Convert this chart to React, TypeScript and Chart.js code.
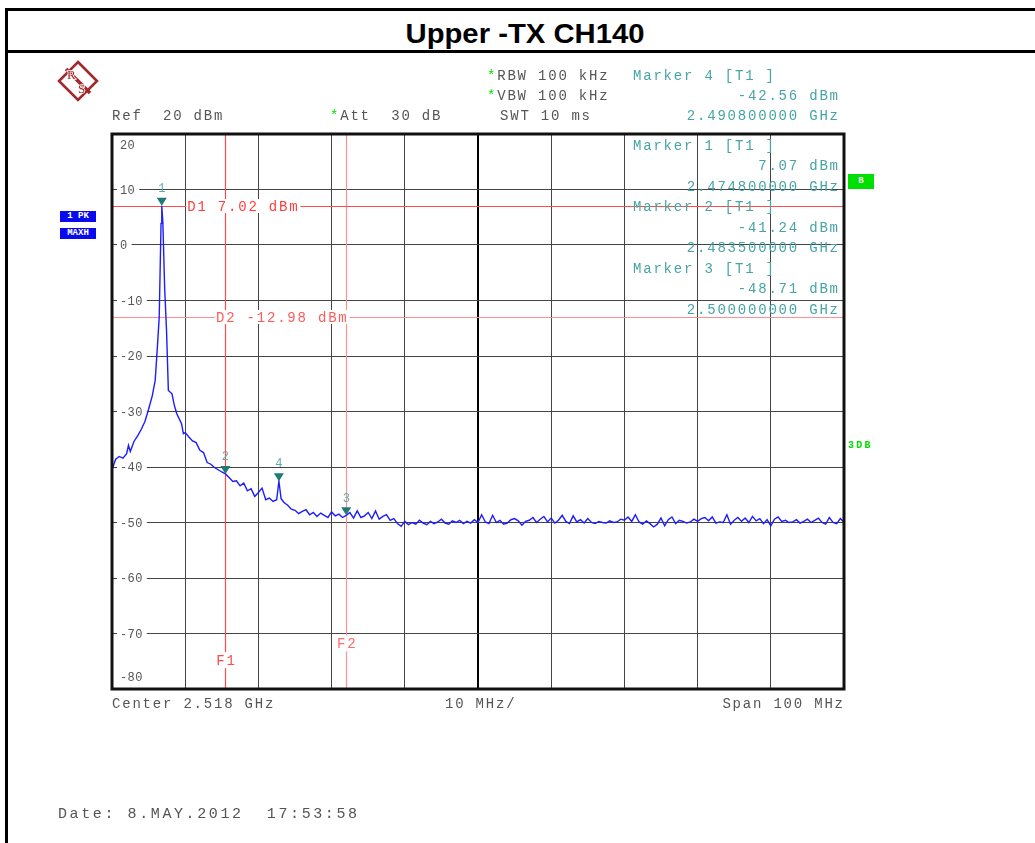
import React, { useEffect, useRef } from 'react';
import { Chart, registerables } from 'chart.js';

Chart.register(...registerables);

// ---------- data ----------
const titleText = 'Upper -TX CH140';
const startMHz = 2468;
const stopMHz = 2568;
const centerMHz = 2518;
const xGridMHz = [2468, 2478, 2488, 2498, 2508, 2518, 2528, 2538, 2548, 2558, 2568];
const yMin = -80;
const yMax = 20;
const yTickValues = [20, 10, 0, -10, -20, -30, -40, -50, -60, -70, -80];

const traceFreqMHz = [
  2468.0, 2468.5, 2469.0, 2469.5, 2470.0, 2470.25, 2470.5, 2471.0, 2471.5, 2472.0,
  2472.5, 2473.0, 2473.5, 2473.9, 2474.2, 2474.45, 2474.7, 2474.8, 2474.95, 2475.2,
  2475.45, 2475.7, 2476.2, 2476.5, 2476.85, 2477.5, 2477.75, 2478.0, 2478.5, 2479.0,
  2479.5, 2480.0, 2480.5, 2481.0, 2481.5, 2482.0, 2482.5, 2483.0, 2483.5, 2484.0,
  2484.5, 2485.0, 2485.5, 2486.0, 2486.5, 2487.0, 2487.5, 2488.0, 2488.5, 2489.0,
  2489.5, 2490.0, 2490.5, 2490.8, 2491.1, 2491.5, 2492.0, 2492.5, 2493.0, 2493.5,
  2494.0, 2494.5, 2495.0, 2495.5, 2496.0, 2496.5, 2497.0, 2497.5, 2498.0, 2498.5,
  2499.0, 2499.5, 2500.0, 2500.5, 2501.0, 2501.5, 2502.0, 2502.5, 2503.0, 2503.5,
  2504.0, 2504.5, 2505.0, 2505.5, 2506.0, 2506.5, 2507.0, 2507.5, 2508.0, 2508.5,
  2509.0, 2509.5, 2510.0, 2510.5, 2511.0, 2511.5, 2512.0, 2512.5, 2513.0, 2513.5,
  2514.0, 2514.5, 2515.0, 2515.5, 2516.0, 2516.5, 2517.0, 2517.5, 2518.0, 2518.5,
  2519.0, 2519.5, 2520.0, 2520.5, 2521.0, 2521.5, 2522.0, 2522.5, 2523.0, 2523.5,
  2524.0, 2524.5, 2525.0, 2525.5, 2526.0, 2526.5, 2527.0, 2527.5, 2528.0, 2528.5,
  2529.0, 2529.5, 2530.0, 2530.5, 2531.0, 2531.5, 2532.0, 2532.5, 2533.0, 2533.5,
  2534.0, 2534.5, 2535.0, 2535.5, 2536.0, 2536.5, 2537.0, 2537.5, 2538.0, 2538.5,
  2539.0, 2539.5, 2540.0, 2540.5, 2541.0, 2541.5, 2542.0, 2542.5, 2543.0, 2543.5,
  2544.0, 2544.5, 2545.0, 2545.5, 2546.0, 2546.5, 2547.0, 2547.5, 2548.0, 2548.5,
  2549.0, 2549.5, 2550.0, 2550.5, 2551.0, 2551.5, 2552.0, 2552.5, 2553.0, 2553.5,
  2554.0, 2554.5, 2555.0, 2555.5, 2556.0, 2556.5, 2557.0, 2557.5, 2558.0, 2558.5,
  2559.0, 2559.5, 2560.0, 2560.5, 2561.0, 2561.5, 2562.0, 2562.5, 2563.0, 2563.5,
  2564.0, 2564.5, 2565.0, 2565.5, 2566.0, 2566.5, 2567.0, 2567.5, 2568.0,
];

const traceLevelDbm = [
  -40.5, -38.6, -38.1, -38.4, -37.6, -36.1, -37.2, -35.4, -34.4, -33.2,
  -31.8, -29.6, -27.2, -24.4, -18.4, -13.0, 3.9, 7.07, 4.0, -8.0,
  -15.4, -26.2, -26.8, -28.8, -30.4, -32.2, -34.0, -33.8, -34.6, -35.3,
  -35.6, -37.0, -37.4, -39.2, -39.5, -40.1, -40.5, -40.9, -41.24, -41.9,
  -42.6, -42.5, -43.4, -42.9, -44.3, -43.9, -45.3, -44.6, -43.8, -45.9,
  -45.6, -46.2, -45.9, -42.56, -45.7, -46.4, -46.9, -47.6, -47.8, -48.4,
  -48.0, -47.7, -48.6, -48.2, -48.9, -48.3, -48.7, -49.1, -48.1, -48.8,
  -48.5, -49.1, -48.71, -48.2, -49.2, -47.9, -49.1, -48.8, -48.2, -49.3,
  -47.9, -49.4, -48.9, -48.6, -49.6, -49.3, -50.2, -50.7, -49.8, -50.4,
  -50.0, -50.3, -49.6, -50.1, -50.4, -49.8, -50.2, -49.9, -49.4, -50.1,
  -50.3, -49.7, -50.0, -49.6, -50.2, -49.8, -50.1, -49.5, -50.0, -48.6,
  -49.9, -50.2, -48.7, -50.0, -49.6, -50.3, -50.1, -49.5, -49.3, -49.7,
  -50.5, -49.8, -49.6, -49.1, -50.0, -49.4, -48.9, -49.9, -49.2, -50.1,
  -49.6, -48.7, -49.8, -50.2, -48.8, -49.9, -49.5, -50.1, -49.3, -50.0,
  -50.2, -49.8, -50.0, -50.1, -49.7, -50.0, -49.9, -49.4, -49.6, -49.0,
  -49.8, -48.6, -49.9, -50.3, -49.7, -50.2, -50.8, -50.3, -49.2, -50.6,
  -49.5, -49.0, -50.2, -49.6, -49.8, -50.1, -49.9, -49.4, -49.8, -49.3,
  -49.1, -49.7, -49.0, -50.1, -49.9, -50.0, -48.6, -50.3, -49.6, -49.1,
  -49.8, -49.2, -50.0, -48.9, -49.7, -49.3, -50.2, -49.5, -50.6, -49.4,
  -49.0, -49.8, -49.6, -50.0, -49.9, -49.5, -50.1, -49.8, -49.4, -50.0,
  -49.6, -49.2, -50.0, -50.3, -49.1, -50.0, -50.2, -49.3, -49.9,
];

const markerNames = ['1', '2', '3', '4'];
const markerFreqMHz = [2474.8, 2483.5, 2500.0, 2490.8];
const markerLevelDbm = [7.07, -41.24, -48.71, -42.56];

const displayLineNames = ['D1', 'D2'];
const displayLineDbm = [7.02, -12.98];
const freqLineNames = ['F1', 'F2'];
const freqLineMHz = [2483.5, 2500.0];

// ---------- styles ----------
const W = 1035;
const H = 843;
const MONO = '"Liberation Mono", "DejaVu Sans Mono", monospace';
const GRAY = '#555555';
const TEAL = '#46a4a4';
const GREEN = '#00dd00';
const LOGO = '#a3282c';

const fmtLevel = (v: number) => `${v.toFixed(2)} dBm`;
const fmtFreq = (mhz: number) => `${(mhz / 1000).toFixed(9)} GHz`;

function Txt(props: {
  x: number; y: number; children: any; color?: string; align?: 'left' | 'right';
  size?: number; ls?: number; bold?: boolean;
}) {
  const { x, y, children, color = GRAY, align = 'left', size = 14, ls = 1.8, bold = false } = props;
  const style: any = {
    position: 'absolute', top: y - 10, height: 20, lineHeight: '20px', fontFamily: MONO,
    fontSize: size, letterSpacing: ls, color, whiteSpace: 'pre', fontWeight: bold ? 'bold' : 'normal',
  };
  if (align === 'left') style.left = x;
  else style.right = W - x - ls;
  return <div style={style}>{children}</div>;
}

const Star = () => <span style={{ color: GREEN }}>*</span>;

const decorPlugin = {
  id: 'rsDecor',
  beforeDatasetsDraw(chart: any) {
    const { ctx, chartArea: a, scales } = chart;
    const xs = scales.x;
    const ys = scales.y;
    ctx.save();
    // frequency lines
    freqLineMHz.forEach((f, i) => {
      const px = Math.round(xs.getPixelForValue(f)) + 0.5;
      ctx.strokeStyle = i === 0 ? '#ff4a4a' : '#ff9090';
      ctx.lineWidth = 1.2;
      ctx.beginPath();
      ctx.moveTo(px, a.top);
      ctx.lineTo(px, a.bottom);
      ctx.stroke();
    });
    // display lines
    displayLineDbm.forEach((v, i) => {
      const py = Math.round(ys.getPixelForValue(v)) + 0.5;
      ctx.strokeStyle = i === 0 ? '#ff4a4a' : '#ff9090';
      ctx.lineWidth = 1.2;
      ctx.beginPath();
      ctx.moveTo(a.left, py);
      ctx.lineTo(a.right, py);
      ctx.stroke();
    });
    // labels for lines
    ctx.font = `14px ${MONO}`;
    (ctx as any).letterSpacing = '1.8px';
    ctx.textBaseline = 'middle';
    ctx.textAlign = 'left';
    const dLabelX = [xs.getPixelForValue(2478) + 2, xs.getPixelForValue(2482.2)];
    displayLineDbm.forEach((v, i) => {
      const py = ys.getPixelForValue(v);
      const t = `${displayLineNames[i]} ${v.toFixed(2)} dBm`;
      const w = ctx.measureText(t).width;
      ctx.fillStyle = '#ffffff';
      ctx.fillRect(dLabelX[i] - 1, py - 7, w + 2, 14);
      ctx.fillStyle = i === 0 ? '#ff3c3c' : '#ff5a5a';
      ctx.fillText(t, dLabelX[i], py + 1);
    });
    const fLabelLevel = [-74.8, -71.8];
    freqLineMHz.forEach((f, i) => {
      const px = xs.getPixelForValue(f);
      const py = ys.getPixelForValue(fLabelLevel[i]);
      const t = freqLineNames[i];
      const w = ctx.measureText(t).width;
      ctx.fillStyle = '#ffffff';
      ctx.fillRect(px - w / 2 - 2, py - 8, w + 4, 16);
      ctx.fillStyle = i === 0 ? '#ff4a4a' : '#ff6a6a';
      ctx.fillText(t, px - w / 2 + 1, py + 1);
    });
    // y tick labels inside plot
    ctx.font = `12px ${MONO}`;
    (ctx as any).letterSpacing = '0.4px';
    yTickValues.forEach((v) => {
      let py = ys.getPixelForValue(v);
      if (v === yMax) py += 11;
      if (v === yMin) py -= 12;
      const t = String(v);
      const tx = a.left + 8;
      const w = ctx.measureText(t).width;
      ctx.fillStyle = '#ffffff';
      ctx.fillRect(a.left + 5, py - 6, w + 7, 12);
      ctx.fillStyle = GRAY;
      ctx.fillText(t, tx, py + 1);
    });
    ctx.restore();
  },
  afterDatasetsDraw(chart: any) {
    const { ctx, chartArea: a, scales } = chart;
    const xs = scales.x;
    const ys = scales.y;
    ctx.save();
    // markers
    ctx.font = `12px ${MONO}`;
    ctx.textAlign = 'center';
    ctx.textBaseline = 'middle';
    markerFreqMHz.forEach((f, i) => {
      const px = xs.getPixelForValue(f);
      const py = ys.getPixelForValue(markerLevelDbm[i]);
      ctx.fillStyle = '#1f7a72';
      ctx.beginPath();
      ctx.moveTo(px - 5, py - 8);
      ctx.lineTo(px + 5, py - 8);
      ctx.lineTo(px, py);
      ctx.closePath();
      ctx.fill();
      ctx.fillStyle = '#5aaeae';
      ctx.fillText(markerNames[i], px, py - 17);
    });
    // frame
    ctx.strokeStyle = '#111111';
    ctx.lineWidth = 3;
    ctx.strokeRect(a.left, a.top, a.right - a.left, a.bottom - a.top);
    ctx.restore();
  },
};

export default function App() {
  const ref = useRef<HTMLCanvasElement>(null);

  useEffect(() => {
    if (!ref.current) return;
    const points = traceFreqMHz.map((f, i) => ({ x: f, y: traceLevelDbm[i] }));
    const chart = new Chart(ref.current, {
      type: 'line',
      data: {
        datasets: [
          {
            data: points,
            borderColor: '#1c1cff',
            borderWidth: 1.4,
            pointRadius: 0,
            tension: 0,
            fill: false,
          },
        ],
      },
      options: {
        animation: false,
        responsive: false,
        maintainAspectRatio: false,
        events: [],
        layout: { padding: { left: 112, top: 134, right: W - 844, bottom: H - 689 } },
        plugins: { legend: { display: false }, tooltip: { enabled: false }, title: { display: false } },
        scales: {
          x: {
            type: 'linear',
            min: startMHz,
            max: stopMHz,
            afterBuildTicks: (scale: any) => {
              scale.ticks = xGridMHz.map((v) => ({ value: v }));
            },
            ticks: { display: false },
            border: { display: false },
            grid: {
              drawTicks: false,
              color: (c: any) => (c.tick && c.tick.value === centerMHz ? '#000000' : '#444444'),
              lineWidth: (c: any) => (c.tick && c.tick.value === centerMHz ? 2 : 1),
            },
          },
          y: {
            type: 'linear',
            min: yMin,
            max: yMax,
            ticks: { display: false, stepSize: 10 },
            border: { display: false },
            grid: { drawTicks: false, color: '#444444', lineWidth: 1 },
          },
        },
      },
      plugins: [decorPlugin],
    } as any);
    return () => chart.destroy();
  }, []);

  const markerRows: { t: string; right: boolean }[] = [];
  [0, 1, 2].forEach((i) => {
    markerRows.push({ t: `Marker ${markerNames[i]} [T1 ]`, right: false });
    markerRows.push({ t: fmtLevel(markerLevelDbm[i]), right: true });
    markerRows.push({ t: fmtFreq(markerFreqMHz[i]), right: true });
  });
  const markerRowY = [146, 166, 187, 207, 228, 248, 269, 289, 310];

  return (
    <div style={{ position: 'absolute', left: 0, top: 0, width: W, height: H, overflow: 'hidden', background: '#fff' }}>
      {/* frame */}
      <div style={{ position: 'absolute', left: 5, top: 8, width: 1200, height: 1000, borderLeft: '3px solid #000', borderTop: '3px solid #000' }} />
      <div style={{ position: 'absolute', left: 5, top: 50, width: 1200, height: 3, background: '#000' }} />
      <div
        style={{
          position: 'absolute', left: 325, top: 20, width: 400, height: 28, lineHeight: '28px', textAlign: 'center',
          fontFamily: '"Liberation Sans", Arial, sans-serif', fontWeight: 'bold', fontSize: 28, color: '#000',
          transform: 'scaleX(1.045)',
        }}
      >
        {titleText}
      </div>

      <canvas ref={ref} width={W} height={H} style={{ position: 'absolute', left: 0, top: 0, width: W, height: H }} />

      {/* R&S logo */}
      <svg style={{ position: 'absolute', left: 57, top: 60 }} width={42} height={42} viewBox="0 0 42 42">
        <polygon points="21,2 40,21 21,40 2,21" fill="#fff" stroke={LOGO} strokeWidth={2.6} />
        <line x1={9} y1={9} x2={33} y2={33} stroke={LOGO} strokeWidth={3.5} />
        <text x={10} y={19} fontSize={13} fontFamily='"Liberation Serif", serif' fill={LOGO}
          stroke="#fff" strokeWidth={1.6} paintOrder="stroke">R</text>
        <text x={21} y={33} fontSize={13} fontFamily='"Liberation Serif", serif' fill={LOGO}
          stroke="#fff" strokeWidth={1.6} paintOrder="stroke">S</text>
      </svg>

      {/* header */}
      <Txt x={487} y={76}><Star />RBW 100 kHz</Txt>
      <Txt x={633} y={76} color={TEAL}>{`Marker ${markerNames[3]} [T1 ]`}</Txt>
      <Txt x={487} y={96}><Star />VBW 100 kHz</Txt>
      <Txt x={838} y={96} color={TEAL} align="right">{fmtLevel(markerLevelDbm[3])}</Txt>
      <Txt x={112} y={116}>{'Ref  20 dBm'}</Txt>
      <Txt x={330} y={116}><Star />{'Att  30 dB'}</Txt>
      <Txt x={500} y={116}>SWT 10 ms</Txt>
      <Txt x={838} y={116} color={TEAL} align="right">{fmtFreq(markerFreqMHz[3])}</Txt>

      {/* marker table in plot */}
      {markerRows.map((r, i) =>
        r.right ? (
          <Txt key={i} x={838} y={markerRowY[i]} color={TEAL} align="right">{r.t}</Txt>
        ) : (
          <Txt key={i} x={633} y={markerRowY[i]} color={TEAL}>{r.t}</Txt>
        )
      )}

      {/* trace mode boxes */}
      <div style={{ position: 'absolute', left: 60, top: 211, width: 36, height: 11, lineHeight: '11px', background: '#0a0aee', color: '#fff', fontFamily: MONO, fontWeight: 'bold', fontSize: 9, textAlign: 'center', whiteSpace: 'pre' }}>{'1 PK'}</div>
      <div style={{ position: 'absolute', left: 60, top: 228, width: 36, height: 11, lineHeight: '11px', background: '#0a0aee', color: '#fff', fontFamily: MONO, fontWeight: 'bold', fontSize: 9, textAlign: 'center' }}>MAXH</div>
      <div style={{ position: 'absolute', left: 848, top: 174, width: 26, height: 15, lineHeight: '15px', background: '#00e000', color: '#fff', fontFamily: MONO, fontWeight: 'bold', fontSize: 9, textAlign: 'center' }}>B</div>
      <Txt x={848} y={446} color={GREEN} size={10} ls={2.2} bold>3DB</Txt>

      {/* bottom */}
      <Txt x={112} y={704}>Center 2.518 GHz</Txt>
      <Txt x={445} y={704}>10 MHz/</Txt>
      <Txt x={843} y={704} align="right">Span 100 MHz</Txt>
      <Txt x={58} y={815} size={15} ls={2.6}>{'Date: 8.MAY.2012  17:53:58'}</Txt>
    </div>
  );
}
